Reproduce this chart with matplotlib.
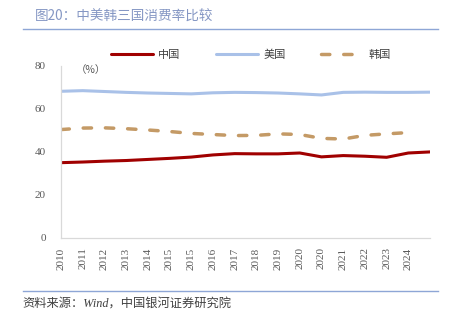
import matplotlib.pyplot as plt
import numpy as np

plt.rcParams['font.family'] = ['Noto Sans CJK SC', 'DejaVu Sans']

# x-axis categories (last point has no label in the source chart)
years = ["2010", "2011", "2012", "2013", "2014", "2015", "2015", "2016", "2017",
         "2018", "2019", "2020", "2020", "2021", "2022", "2023", "2024"]

china = [34.9, 35.2, 35.6, 35.9, 36.4, 36.9, 37.5, 38.5, 39.1,
         39.0, 39.0, 39.4, 37.6, 38.2, 37.9, 37.4, 39.4, 39.9]
usa = [68.1, 68.4, 68.0, 67.6, 67.3, 67.1, 66.9, 67.4, 67.6,
       67.5, 67.3, 66.9, 66.4, 67.6, 67.7, 67.6, 67.6, 67.7]
korea = [50.3, 51.0, 51.1, 50.7, 50.1, 49.4, 48.5, 48.0, 47.5,
         47.6, 48.3, 48.0, 46.2, 45.9, 47.6, 48.3, 48.9]

fig = plt.figure(figsize=(4.54, 3.21), dpi=100)
ax = fig.add_axes([0.1344, 0.2595, 0.8128, 0.5358])

ax.plot(np.arange(len(china)), china, color="#A00000", lw=2.2,
        solid_capstyle="round", label="中国")
ax.plot(np.arange(len(usa)), usa, color="#A9C1E8", lw=2.2,
        solid_capstyle="round", label="美国")
ax.plot(np.arange(len(korea)), korea, color="#C49A66", lw=2.5,
        linestyle=(0, (2.4, 4.0)), dash_capstyle="round", label="韩国")

ax.set_xlim(0, len(china) - 1)
ax.set_ylim(0, 80)
ax.set_yticks([0, 20, 40, 60, 80])
ax.set_xticks(np.arange(len(years)))
ax.set_xticklabels(years, rotation=90)

for lab in ax.get_xticklabels() + ax.get_yticklabels():
    lab.set_fontfamily("Liberation Serif")
    lab.set_fontsize(8)
    lab.set_color("#595959")
ax.tick_params(axis="both", length=0)
ax.tick_params(axis="y", pad=11)
ax.tick_params(axis="x", pad=7)

for side in ["top", "right"]:
    ax.spines[side].set_visible(False)
for side in ["left", "bottom"]:
    ax.spines[side].set_color("#D9D9D9")
    ax.spines[side].set_linewidth(0.9)

ax.text(0.04, 0.975, "（%）", transform=ax.transAxes, fontsize=7.5,
        color="#595959", ha="left", va="center")

fig.legend(loc="center", bbox_to_anchor=(0.552, 0.829), ncol=3, frameon=False,
           fontsize=8, handlelength=3.8, handletextpad=0.45, columnspacing=3.2,
           labelcolor="#404040")

# title, rules and source note
fig.text(0.077, 0.947, "图20：中美韩三国消费率比较", fontsize=9.8, color="#8597C4",
         ha="left", va="center")
fig.add_artist(plt.Line2D([0.05, 0.965], [1 - 29 / 321] * 2, color="#8EA6D6", lw=1.0))
fig.add_artist(plt.Line2D([0.05, 0.965], [1 - 291 / 321] * 2, color="#8EA6D6", lw=1.0))
fig.text(0.05, 1 - 305 / 321, "资料来源：Wind，中国银河证券研究院", fontsize=8.8,
         color="#404040", ha="left", va="center", style="italic",
         family=["Liberation Serif", "Noto Sans CJK SC"])

fig.savefig("out.png", dpi=100)
